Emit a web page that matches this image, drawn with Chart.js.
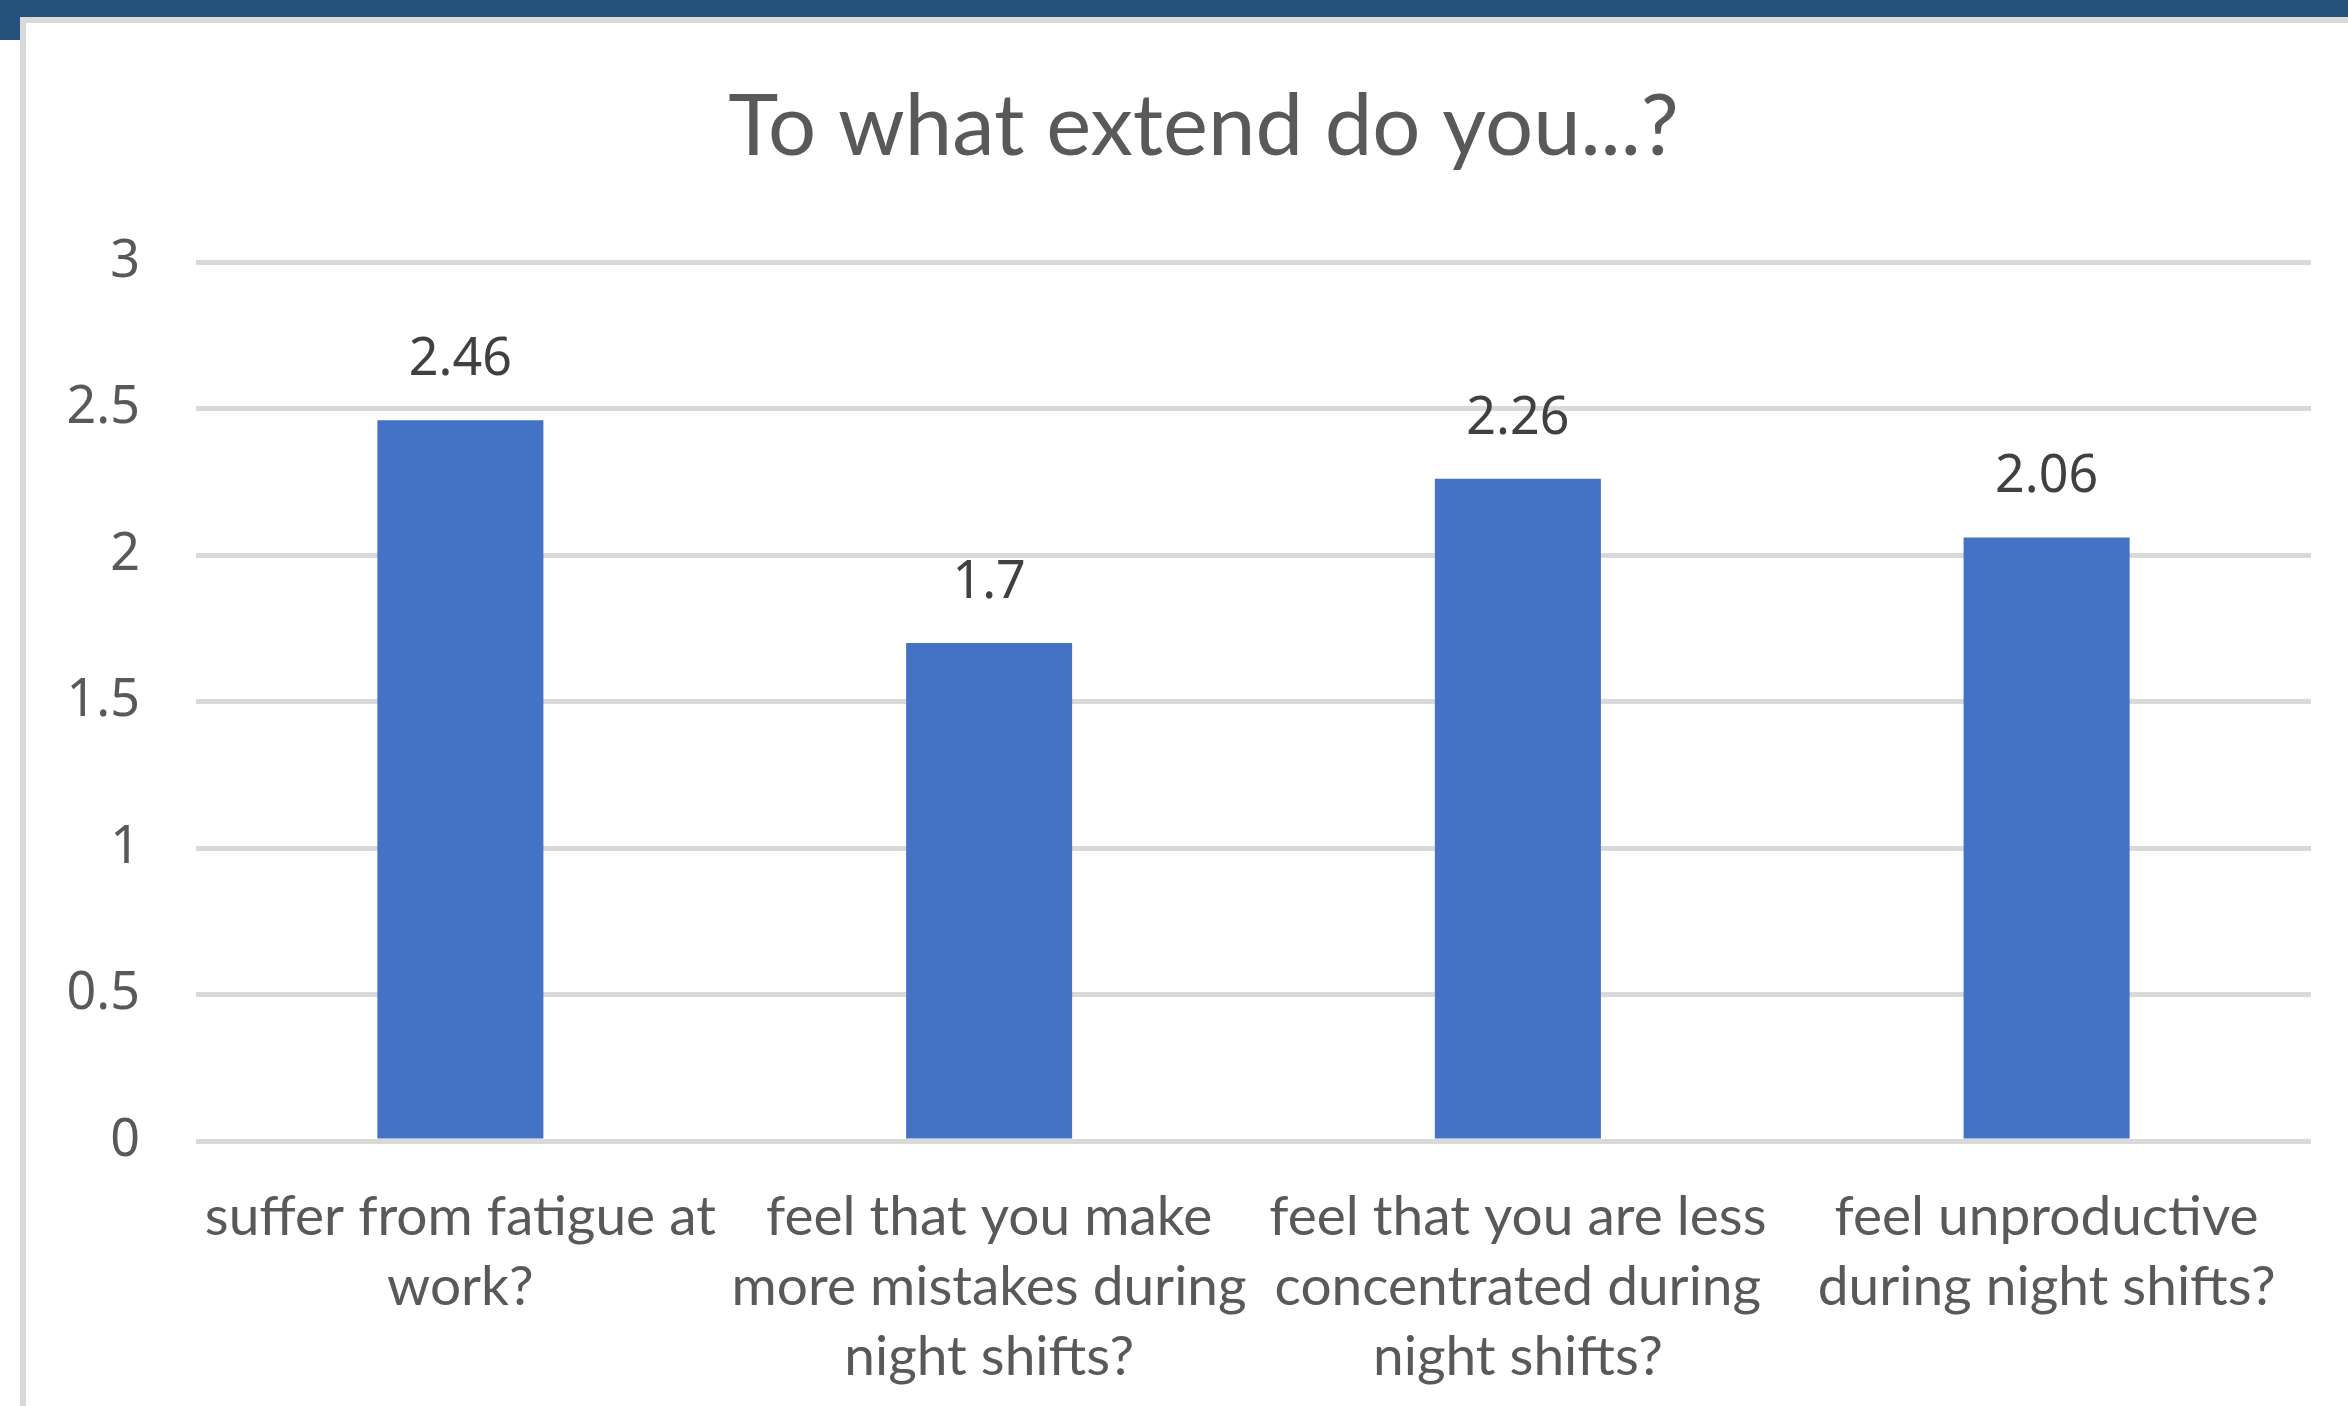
<!DOCTYPE html>
<html>
<head>
<meta charset="utf-8">
<title>To what extend do you...?</title>
<script src="https://cdn.jsdelivr.net/npm/chart.js@4.4.0/dist/chart.umd.min.js"></script>
<style>
  html, body { margin: 0; padding: 0; background: #fff; overflow: hidden; }
  #topband { position: absolute; left: 0; top: 0; width: 2348px; height: 17px; background: #23517a; }
  #corner { position: absolute; left: 0; top: 0; width: 20px; height: 40px; background: #23517a; }
  #frame { position: absolute; left: 20px; top: 17px; width: 2328px; height: 1389px;
           border-top: 6px solid #d9d9d9; border-left: 6px solid #d9d9d9; box-sizing: border-box; }
  #chart { position: absolute; left: 0; top: 0; }
</style>
</head>
<body>
<div id="topband"></div>
<div id="corner"></div>
<div id="frame"></div>
<canvas id="chart" width="2348" height="1406"></canvas>
<script>
// chart data
const categories = [
    ['suffer from fatigue at', 'work?'],
    ['feel that you make', 'more mistakes during', 'night shifts?'],
    ['feel that you are less', 'concentrated during', 'night shifts?'],
    ['feel unproductive', 'during night shifts?']
];
const values = [2.46, 1.7, 2.26, 2.06];
const yTicks = [0, 0.5, 1, 1.5, 2, 2.5, 3];
const chartTitle = 'To what extend do you...?';

const textFont = "Lato, 'Open Sans', 'Liberation Sans', sans-serif";
const digitFont = "'Noto Sans', 'Open Sans', sans-serif";

// pick a font size so a string comes out at a given pixel width
function fitFontSize(ctx, text, family, targetWidth) {
    ctx.save();
    ctx.font = '100px ' + family;
    const w = ctx.measureText(text).width;
    ctx.restore();
    return Math.round(100 * targetWidth / w);
}

// title, centred over the whole chart frame rather than the canvas box
const frameTitle = {
    id: 'frameTitle',
    afterDraw(chart, args, opts) {
        const ctx = chart.ctx;
        const area = chart.chartArea;
        ctx.save();
        ctx.font = opts.size + 'px ' + textFont;
        ctx.fillStyle = '#595959';
        ctx.textAlign = 'center';
        ctx.textBaseline = 'alphabetic';
        ctx.fillText(chartTitle, (area.left + area.right) / 2 - 50, 155);
        ctx.restore();
    }
};

// draws the value above each bar
const barValueLabels = {
    id: 'barValueLabels',
    afterDatasetsDraw(chart) {
        const ctx = chart.ctx;
        const meta = chart.getDatasetMeta(0);
        ctx.save();
        ctx.font = '52px ' + digitFont;
        ctx.fillStyle = '#404040';
        ctx.textAlign = 'center';
        ctx.textBaseline = 'alphabetic';
        meta.data.forEach((bar, i) => {
            ctx.fillText(String(values[i]), bar.x, bar.y - 45);
        });
        ctx.restore();
    }
};

function drawChart() {
    const ctx = document.getElementById('chart').getContext('2d');
    const titleSize = fitFontSize(ctx, chartTitle, textFont, 946);
    const labelSize = fitFontSize(ctx, categories[0][0], textFont, 513);

    new Chart(ctx, {
        type: 'bar',
        data: {
            labels: categories,
            datasets: [{
                data: values,
                backgroundColor: '#4472c4',
                borderWidth: 0,
                categoryPercentage: 1,
                barPercentage: 0.314
            }]
        },
        options: {
            responsive: false,
            animation: false,
            devicePixelRatio: 1,
            layout: { padding: { top: 262, right: 37, bottom: 0, left: 0 } },
            plugins: {
                legend: { display: false },
                tooltip: { enabled: false },
                title: { display: false },
                frameTitle: { size: titleSize }
            },
            scales: {
                x: {
                    grid: { display: false, drawTicks: false },
                    border: { display: false },
                    ticks: {
                        color: '#595959',
                        font: { family: textFont, size: labelSize, lineHeight: 70 / labelSize },
                        padding: 41,
                        maxRotation: 0,
                        autoSkip: false
                    },
                    afterFit(scale) { scale.height = 265; }
                },
                y: {
                    min: 0,
                    max: 3,
                    afterBuildTicks(scale) { scale.ticks = yTicks.map(v => ({ value: v })); },
                    grid: { color: '#d9d9d9', lineWidth: 5, drawTicks: false },
                    border: { display: false },
                    ticks: {
                        color: '#595959',
                        font: { family: digitFont, size: 52 },
                        padding: 56,
                        callback: (v) => String(v)
                    },
                    afterFit(scale) { scale.width = 196; }
                }
            }
        },
        plugins: [barValueLabels, frameTitle]
    });
}

window.onload = drawChart;
</script>
</body>
</html>
